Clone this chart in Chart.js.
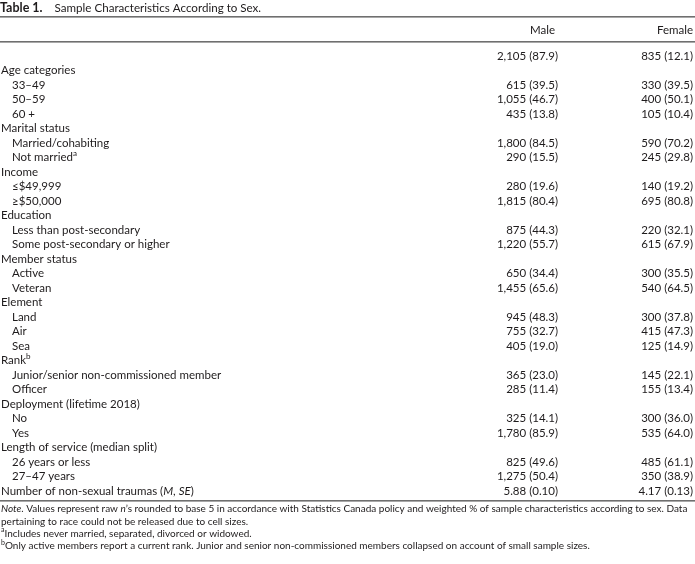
<!DOCTYPE html>
<html>
<head>
<meta charset="utf-8">
<script src="https://cdn.jsdelivr.net/npm/chart.js@4/dist/chart.umd.min.js"></script>
<style>
  html, body { margin: 0; padding: 0; background: #fff; }
  #wrap { position: relative; width: 695px; height: 564px; }
</style>
</head>
<body>
<div id="wrap"><canvas id="tbl" width="695" height="564"></canvas></div>
<script>
// Table 1 — sample characteristics by sex, drawn on Chart.js category scales.

const columns = ['Male', 'Female'];

const rowLabels = [
  '', 'Age categories', '33–49', '50–59', '60 +',
  'Marital status', 'Married/cohabiting', 'Not married',
  'Income', '≤$49,999', '≥$50,000',
  'Education', 'Less than post-secondary', 'Some post-secondary or higher',
  'Member status', 'Active', 'Veteran',
  'Element', 'Land', 'Air', 'Sea',
  'Rank', 'Junior/senior non-commissioned member', 'Officer',
  'Deployment (lifetime 2018)', 'No', 'Yes',
  'Length of service (median split)', '26 years or less', '27–47 years',
  'Number of non-sexual traumas'
];

// group heading rows (not indented)
const isGroup = [
  true, true, false, false, false,
  true, false, false,
  true, false, false,
  true, false, false,
  true, false, false,
  true, false, false, false,
  true, false, false,
  true, false, false,
  true, false, false,
  true
];

// footnote marks on labels
const rowMarks = { 7: 'a', 21: 'b' };

const maleN = [
  2105, null, 615, 1055, 435,
  null, 1800, 290,
  null, 280, 1815,
  null, 875, 1220,
  null, 650, 1455,
  null, 945, 755, 405,
  null, 365, 285,
  null, 325, 1780,
  null, 825, 1275,
  5.88
];
const malePct = [
  87.9, null, 39.5, 46.7, 13.8,
  null, 84.5, 15.5,
  null, 19.6, 80.4,
  null, 44.3, 55.7,
  null, 34.4, 65.6,
  null, 48.3, 32.7, 19.0,
  null, 23.0, 11.4,
  null, 14.1, 85.9,
  null, 49.6, 50.4,
  0.10
];
const femaleN = [
  835, null, 330, 400, 105,
  null, 590, 245,
  null, 140, 695,
  null, 220, 615,
  null, 300, 540,
  null, 300, 415, 125,
  null, 145, 155,
  null, 300, 535,
  null, 485, 350,
  4.17
];
const femalePct = [
  12.1, null, 39.5, 50.1, 10.4,
  null, 70.2, 29.8,
  null, 19.2, 80.8,
  null, 32.1, 67.9,
  null, 35.5, 64.5,
  null, 37.8, 47.3, 14.9,
  null, 22.1, 13.4,
  null, 36.0, 64.0,
  null, 61.1, 38.9,
  0.13
];

const noteLines = [
  [{ t: 'Note', s: 'i' }, { t: '. Values represent raw ' }, { t: 'n', s: 'i' },
   { t: '’s rounded to base 5 in accordance with Statistics Canada policy and weighted % of sample characteristics according to sex. Data' }],
  [{ t: 'pertaining to race could not be released due to cell sizes.' }],
  [{ t: 'a', s: 'sup' }, { t: 'Includes never married, separated, divorced or widowed.' }],
  [{ t: 'b', s: 'sup' }, { t: 'Only active members report a current rank. Junior and senior non-commissioned members collapsed on account of small sample sizes.' }]
];

const FAMILY = 'Lato, "DejaVu Sans", sans-serif';
const INK = '#1e1b1c';
const RULE = '#6f6f6f';

function fmtCell(n, p) {
  if (Number.isInteger(n)) return n.toLocaleString('en-US') + ' (' + p.toFixed(1) + ')';
  return n.toFixed(2) + ' (' + p.toFixed(2) + ')'; // mean (SE)
}

function font(size, style) {
  if (style === 'b') return 'bold ' + size + 'px ' + FAMILY;
  if (style === 'i') return 'italic ' + size + 'px ' + FAMILY;
  return size + 'px ' + FAMILY;
}

// draw a run of text pieces left to right
function drawRich(ctx, parts, x, y, size) {
  for (const p of parts) {
    if (p.s === 'sup') {
      ctx.font = font(size * 0.7);
      ctx.fillText(p.t, x, y - size * 0.35);
    } else {
      ctx.font = font(size, p.s);
      ctx.fillText(p.t, x, y);
    }
    x += ctx.measureText(p.t).width;
  }
  return x;
}

function labelParts(i) {
  const parts = [{ t: rowLabels[i] }];
  if (i === rowLabels.length - 1) {
    parts.push({ t: ' (' }, { t: 'M', s: 'i' }, { t: ', ' }, { t: 'SE', s: 'i' }, { t: ')' });
  }
  if (rowMarks[i]) parts.push({ t: rowMarks[i], s: 'sup' });
  return parts;
}

const tablePlugin = {
  id: 'tableText',
  afterDatasetsDraw(chart) {
    const ctx = chart.ctx;
    const x = chart.scales.x;
    const y = chart.scales.y;
    const W = chart.width;
    ctx.save();
    ctx.fillStyle = INK;
    ctx.textBaseline = 'middle';

    // title
    const tx = drawRich(ctx, [{ t: 'Table 1.', s: 'b' }], 0, 8, 12.5);
    drawRich(ctx, [{ t: 'Sample Characteristics According to Sex.' }], tx + 12, 8, 11.6);

    // rules
    ctx.fillStyle = RULE;
    ctx.fillRect(0, 16, W, 1.6);
    ctx.fillRect(0, 41, W, 1.6);
    ctx.fillRect(0, y.bottom + 9, W, 1.6);
    ctx.fillStyle = INK;

    // column headers
    ctx.font = font(11.5);
    ctx.textAlign = 'right';
    ctx.fillText(columns[0], x.getPixelForValue(0) - 3, 30);
    ctx.fillText(columns[1], x.getPixelForValue(1), 30);

    // cell values, positioned by the dataset points
    chart.data.datasets.forEach((ds, di) => {
      const meta = chart.getDatasetMeta(di);
      ctx.font = font(11.5);
      ctx.textAlign = 'right';
      meta.data.forEach((pt, i) => {
        ctx.fillText(ds.cellText[i], pt.x, pt.y);
      });
    });

    // row labels
    ctx.textAlign = 'left';
    rowLabels.forEach((lab, i) => {
      const py = y.getPixelForValue(i);
      drawRich(ctx, labelParts(i), isGroup[i] ? 1 : 12, py, 11.5);
    });

    // notes
    noteLines.forEach((line, k) => {
      drawRich(ctx, line, 1, y.bottom + 18 + k * 12.3, 10);
    });
    ctx.restore();
  }
};

// one point per filled cell; empty cells (group headings) get none
function cellData(nArr, pArr, col) {
  const pts = [];
  const txt = [];
  nArr.forEach((n, i) => {
    if (n === null) return;
    pts.push({ x: columns[col], y: rowLabels[i] });
    txt.push(fmtCell(n, pArr[i]));
  });
  return { pts, txt };
}

const male = cellData(maleN, malePct, 0);
const female = cellData(femaleN, femalePct, 1);

new Chart(document.getElementById('tbl'), {
  type: 'scatter',
  data: {
    datasets: [
      { label: columns[0], data: male.pts, cellText: male.txt, pointRadius: 0 },
      { label: columns[1], data: female.pts, cellText: female.txt, pointRadius: 0 }
    ]
  },
  options: {
    responsive: false,
    animation: false,
    devicePixelRatio: 1,
    layout: { padding: { left: 558, right: 2, top: 56, bottom: 73 } },
    plugins: { legend: { display: false }, tooltip: { enabled: false } },
    scales: {
      x: { type: 'category', labels: columns, offset: false, display: false },
      y: { type: 'category', labels: rowLabels, offset: false, display: false }
    }
  },
  plugins: [tablePlugin]
});
</script>
</body>
</html>
